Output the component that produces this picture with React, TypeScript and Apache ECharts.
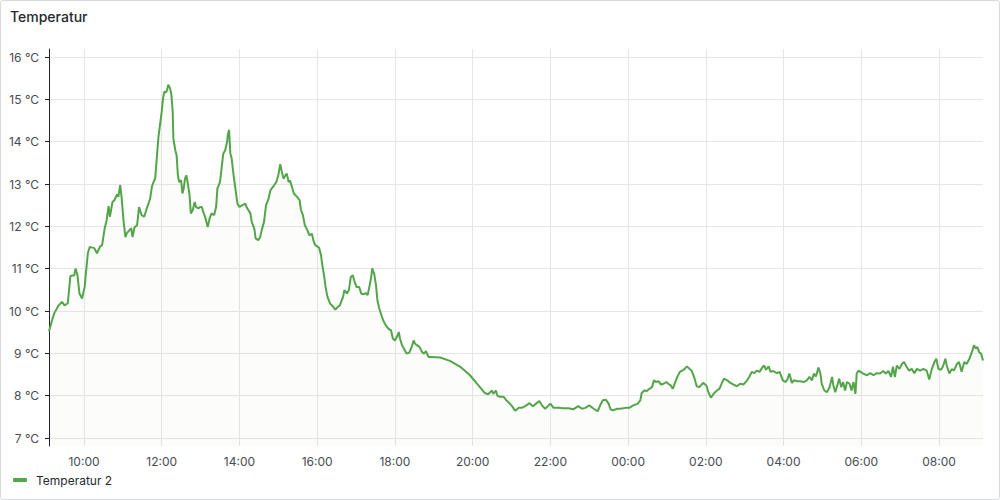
import { useEffect, useRef } from "react";
import * as echarts from "echarts";

const TITLE = "Temperatur";
const SERIES_NAME = "Temperatur 2";

// Readings: [minutes after 09:00 on the first day, temperature in °C]
const morning: [number, number][] = [
  [6, 9.53], [10, 9.75], [14, 9.95], [21, 10.14], [26, 10.22], [30, 10.14], [35, 10.19], [39, 10.83],
  [45, 10.85], [47, 11.01], [50, 10.85], [53, 10.42], [57, 10.3], [61, 10.57], [63, 10.9], [66, 11.37],
  [69, 11.52], [76, 11.49], [80, 11.37], [85, 11.53], [88, 11.56], [92, 11.96], [95, 12.15], [98, 12.48],
  [100, 12.23], [104, 12.58], [107, 12.62], [111, 12.76], [113, 12.7], [116, 12.98], [118, 12.7], [121, 12.15],
  [124, 11.75], [126, 11.84], [130, 11.91], [133, 11.96], [135, 11.75], [138, 11.98], [142, 12.03], [145, 12.46],
  [149, 12.27], [153, 12.23], [157, 12.43], [162, 12.65], [165, 12.95], [167, 13.03], [170, 13.15], [172, 13.53],
  [175, 14.12], [178, 14.47],
];

const midday: [number, number][] = [
  [180, 14.71], [182, 15.02], [184, 15.18], [187, 15.17], [189, 15.26], [190, 15.35], [193, 15.26], [195, 15.1],
  [197, 14.71], [198, 14.08], [201, 13.8], [203, 13.68], [205, 13.21], [207, 13.05], [210, 13.09], [212, 12.78],
  [214, 12.9], [216, 13.13], [218, 13.21], [220, 13.05], [223, 12.74], [225, 12.31], [228, 12.39], [231, 12.58],
  [233, 12.46], [237, 12.43], [239, 12.46], [242, 12.46], [244, 12.35], [247, 12.23], [251, 11.99], [254, 12.19],
  [257, 12.31], [261, 12.27], [264, 12.46], [266, 12.9], [270, 13.05], [273, 13.45], [275, 13.72], [278, 13.8],
  [281, 14.0], [282, 14.16], [284, 14.28], [286, 13.72], [288, 13.61], [291, 13.21], [293, 12.98], [297, 12.54],
  [300, 12.46], [304, 12.5], [309, 12.54], [312, 12.43], [317, 12.31], [319, 12.11], [323, 11.95], [325, 11.72],
  [329, 11.68], [332, 11.75], [335, 11.95], [338, 12.11], [341, 12.5], [345, 12.66], [348, 12.86], [352, 12.94],
  [357, 13.05], [360, 13.21],
];

const afternoon: [number, number][] = [
  [363, 13.47], [365, 13.33], [368, 13.13], [371, 13.21], [373, 13.25], [376, 13.05], [378, 13.09], [381, 12.94],
  [384, 12.78], [389, 12.7], [393, 12.62], [395, 12.39], [398, 12.27], [401, 12.03], [405, 11.91], [408, 11.79],
  [412, 11.83], [414, 11.68], [417, 11.56], [420, 11.53], [423, 11.5], [426, 11.32], [428, 11.09], [431, 10.81],
  [433, 10.57], [436, 10.34], [440, 10.18], [444, 10.12], [448, 10.04], [451, 10.09], [455, 10.14], [460, 10.34],
  [462, 10.5], [466, 10.42], [469, 10.5], [472, 10.81], [475, 10.85], [478, 10.69], [481, 10.57], [485, 10.57],
  [488, 10.42], [491, 10.4], [495, 10.43], [498, 10.38], [501, 10.61], [503, 10.77], [505, 11.01], [508, 10.89],
  [511, 10.6], [513, 10.26], [516, 10.06], [520, 9.87], [523, 9.75], [526, 9.67], [530, 9.59], [534, 9.55],
  [537, 9.35], [540, 9.31], [543, 9.39], [546, 9.51], [548, 9.35], [551, 9.2], [554, 9.12], [558, 9.0],
  [562, 9.02], [566, 9.16], [569, 9.31], [571, 9.24], [574, 9.2], [578, 9.16], [582, 9.04], [585, 9.0],
  [588, 9.06], [592, 8.92], [597, 8.92],
];

const evening: [number, number][] = [
  [610, 8.91], [625, 8.83], [641, 8.69], [656, 8.49], [669, 8.25], [679, 8.07], [684, 8.04], [690, 8.13],
  [692, 8.05], [696, 8.13], [698, 8.01], [702, 7.98], [708, 7.98], [712, 7.9], [715, 7.86], [720, 7.78],
  [726, 7.65], [731, 7.72], [736, 7.72], [741, 7.76], [748, 7.83], [753, 7.76], [758, 7.82], [763, 7.88],
  [767, 7.78], [772, 7.7], [780, 7.82], [785, 7.72], [793, 7.72], [800, 7.71], [808, 7.71], [816, 7.69],
  [823, 7.76], [829, 7.7], [834, 7.72], [840, 7.78], [847, 7.7], [853, 7.64], [857, 7.78], [861, 7.9],
  [866, 7.91], [870, 7.82], [873, 7.68], [877, 7.66], [883, 7.7], [888, 7.7], [896, 7.72], [902, 7.72],
  [908, 7.78], [915, 7.82], [919, 7.9], [921, 8.07], [925, 8.13], [929, 8.12], [933, 8.17], [937, 8.21],
  [940, 8.37], [943, 8.33], [947, 8.35], [951, 8.27], [955, 8.29], [959, 8.33], [962, 8.29], [966, 8.25],
  [969, 8.17], [973, 8.33], [976, 8.45], [980, 8.57], [986, 8.62], [991, 8.7], [995, 8.64], [998, 8.6],
  [1002, 8.45], [1006, 8.23], [1010, 8.21],
];

const night: [number, number][] = [
  [1016, 8.31], [1021, 8.25], [1024, 8.09], [1028, 7.96], [1032, 8.05], [1037, 8.13], [1041, 8.17], [1045, 8.31],
  [1048, 8.41], [1053, 8.37], [1058, 8.31], [1063, 8.27], [1068, 8.23], [1073, 8.29], [1078, 8.27], [1083, 8.35],
  [1087, 8.45], [1091, 8.57], [1095, 8.54], [1099, 8.6], [1103, 8.57], [1107, 8.67], [1110, 8.72], [1113, 8.62],
  [1117, 8.7], [1120, 8.57], [1124, 8.59], [1130, 8.54], [1134, 8.57], [1139, 8.37], [1143, 8.33], [1146, 8.39],
  [1149, 8.53], [1153, 8.31], [1156, 8.37], [1161, 8.35], [1166, 8.35], [1171, 8.33], [1176, 8.37], [1180, 8.45],
  [1184, 8.37], [1187, 8.53], [1190, 8.46], [1194, 8.67], [1197, 8.53], [1199, 8.29], [1203, 8.13], [1207, 8.09],
  [1211, 8.2], [1215, 8.45], [1217, 8.25], [1220, 8.09], [1223, 8.25], [1226, 8.41], [1229, 8.21], [1232, 8.33],
  [1235, 8.13], [1238, 8.33], [1242, 8.29], [1245, 8.13], [1248, 8.33], [1251, 8.05], [1253, 8.53], [1256, 8.6],
];

const earlyMorning: [number, number][] = [
  [1259, 8.57], [1263, 8.53], [1269, 8.49], [1274, 8.54], [1279, 8.49], [1284, 8.54], [1289, 8.53], [1294, 8.59],
  [1298, 8.53], [1302, 8.59], [1306, 8.45], [1309, 8.69], [1312, 8.45], [1315, 8.72], [1319, 8.64], [1323, 8.76],
  [1326, 8.8], [1330, 8.69], [1334, 8.6], [1338, 8.64], [1342, 8.54], [1346, 8.64], [1351, 8.6], [1356, 8.64],
  [1361, 8.6], [1365, 8.39], [1369, 8.64], [1373, 8.8], [1376, 8.88], [1379, 8.64], [1383, 8.62], [1386, 8.69],
  [1390, 8.88], [1392, 8.72], [1396, 8.53], [1400, 8.64], [1403, 8.6], [1408, 8.76], [1411, 8.8], [1415, 8.57],
  [1419, 8.8], [1423, 8.76], [1427, 8.88], [1431, 9.04], [1434, 9.2], [1437, 9.12], [1439, 9.16], [1442, 9.04],
  [1445, 9.0], [1448, 8.84],
];

// X tick labels, every 2 hours from 10:00 (minute 60) to 08:00 next day (minute 1380)
const xTickLabels = ["10:00", "12:00", "14:00", "16:00", "18:00", "20:00", "22:00", "00:00", "02:00", "04:00", "06:00", "08:00"];
const X_TICK_START = 60;
const X_TICK_STEP = 120;

// Visible time range and value range
const X_MIN = 6;
const X_MAX = 1448;
const Y_MIN = 6.82;
const Y_MAX = 16.19;
const Y_TICK_MIN = 7;
const Y_TICK_MAX = 16;
const UNIT = "°C";

const FONT = "Inter, 'Noto Sans', sans-serif";
const TEXT = "#464c54";
const GRID_LINE = "#e6e6e6";
const GREEN = "#53a54a";

export default function App() {
  const ref = useRef<HTMLDivElement>(null);

  useEffect(() => {
    if (!ref.current) return;
    const chart = echarts.init(ref.current, undefined, { renderer: "svg" });
    const data = [...morning, ...midday, ...afternoon, ...evening, ...night, ...earlyMorning];
    const xTickMax = X_TICK_START + X_TICK_STEP * (xTickLabels.length - 1);

    chart.setOption({
      animation: false,
      backgroundColor: "#ffffff",
      textStyle: { fontFamily: FONT },
      title: {
        text: TITLE,
        left: 10,
        top: 9,
        padding: 0,
        textStyle: { fontSize: 14, fontWeight: 500, color: "#24292e", fontFamily: FONT },
      },
      legend: {
        left: 13,
        top: 474,
        padding: 0,
        icon: "roundRect",
        itemWidth: 14,
        itemHeight: 4,
        textStyle: { fontSize: 12, color: "#24292e", fontFamily: FONT, padding: [0, 0, 0, 4] },
        data: [SERIES_NAME],
      },
      graphic: [
        {
          type: "rect",
          shape: { x: 0.5, y: 0.5, width: 999, height: 499, r: 2 },
          style: { fill: "none", stroke: "#d9dadc", lineWidth: 1 },
          silent: true,
          z: 100,
        },
      ],
      grid: [
        { left: 49, right: 17, top: 49, bottom: 54 },
        { left: 49, right: 17, top: 57, bottom: 62 },
        { left: 84, right: 61, top: 49, bottom: 54 },
      ],
      xAxis: [
        {
          gridIndex: 0,
          type: "value",
          min: X_MIN,
          max: X_MAX,
          show: false,
        },
        {
          gridIndex: 1,
          type: "value",
          min: X_MIN,
          max: X_MAX,
          show: false,
        },
        {
          gridIndex: 2,
          type: "value",
          min: X_TICK_START,
          max: xTickMax,
          interval: X_TICK_STEP,
          axisLine: { show: false },
          axisTick: { show: false },
          axisLabel: {
            margin: 9,
            fontSize: 12,
            color: TEXT,
            fontFamily: FONT,
            formatter: (v: number) => xTickLabels[Math.round((v - X_TICK_START) / X_TICK_STEP)] ?? "",
          },
          splitLine: { show: true, lineStyle: { color: GRID_LINE, width: 1 } },
        },
      ],
      yAxis: [
        {
          gridIndex: 0,
          type: "value",
          min: Y_MIN,
          max: Y_MAX,
          axisLine: { show: true, lineStyle: { color: "#1f2328", width: 1 } },
          axisTick: { show: false },
          axisLabel: { show: false },
          splitLine: { show: false },
        },
        {
          gridIndex: 1,
          type: "value",
          min: Y_TICK_MIN,
          max: Y_TICK_MAX,
          interval: 1,
          axisLine: { show: false },
          axisTick: { show: true, length: 4, lineStyle: { color: "#1f2328", width: 1 } },
          axisLabel: {
            margin: 10,
            fontSize: 12,
            color: TEXT,
            fontFamily: FONT,
            formatter: (v: number) => `${v} ${UNIT}`,
          },
          splitLine: { show: true, lineStyle: { color: GRID_LINE, width: 1 } },
        },
        {
          gridIndex: 2,
          type: "value",
          min: Y_MIN,
          max: Y_MAX,
          show: false,
          splitLine: { show: false },
        },
      ],
      series: [
        {
          name: SERIES_NAME,
          type: "line",
          xAxisIndex: 0,
          yAxisIndex: 0,
          data,
          showSymbol: false,
          smooth: false,
          lineStyle: { color: GREEN, width: 2 },
          itemStyle: { color: GREEN },
          areaStyle: { color: "rgba(90,90,60,0.03)" },
          z: 5,
        },
      ],
    });

    return () => chart.dispose();
  }, []);

  return (
    <div
      ref={ref}
      style={{ position: "absolute", left: 0, top: 0, width: 1000, height: 500 }}
    />
  );
}
